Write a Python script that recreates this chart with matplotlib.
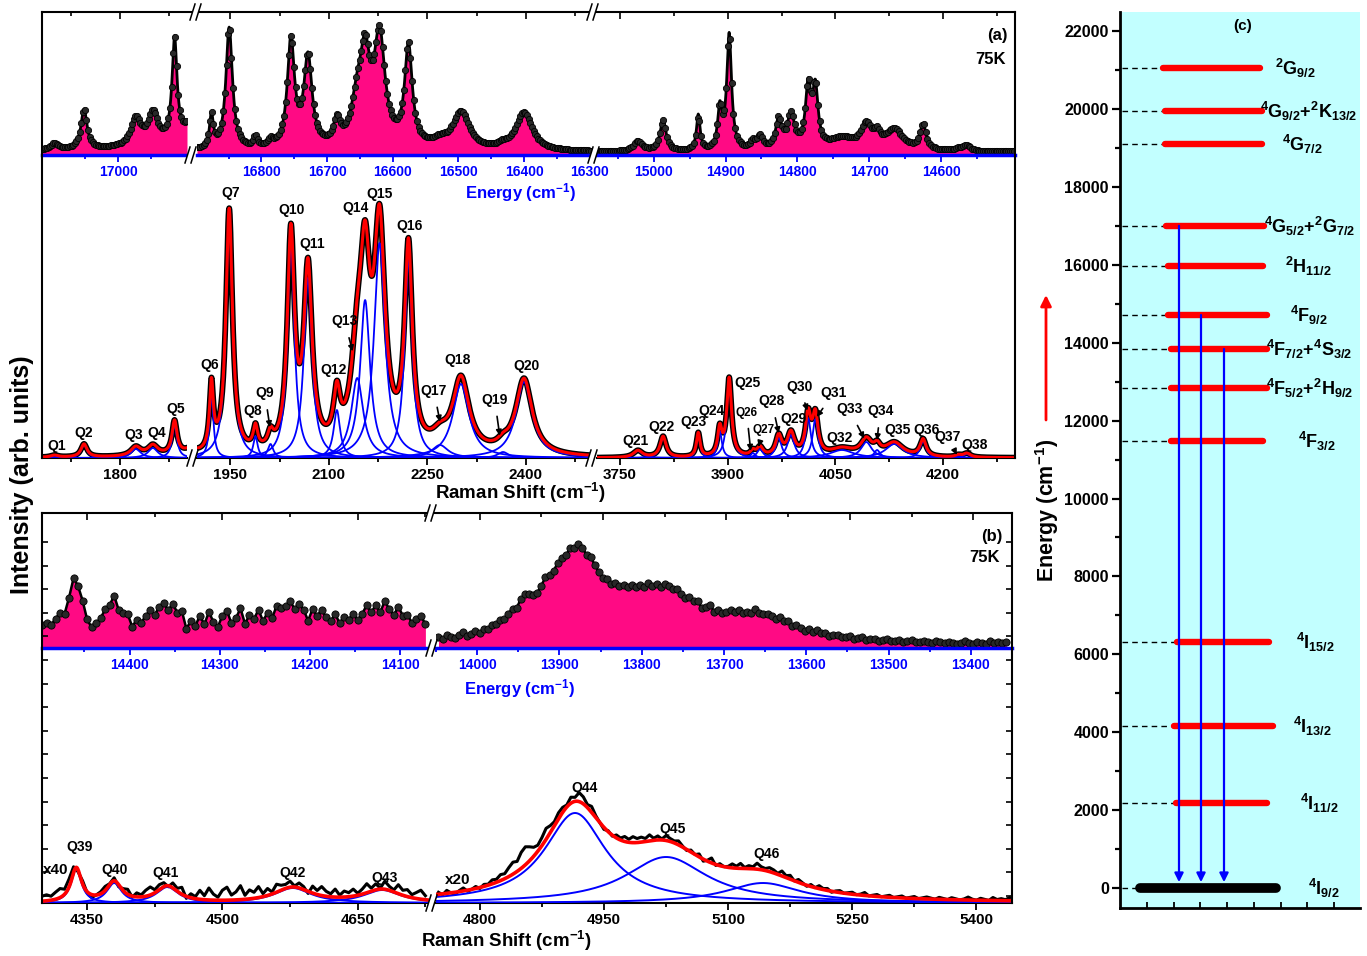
import numpy as np
import matplotlib
matplotlib.use('Agg')
import matplotlib.pyplot as plt
from matplotlib.patches import Polygon

plt.rcParams['font.family'] = ['Liberation Sans', 'DejaVu Sans']
plt.rcParams['font.weight'] = 'bold'
plt.rcParams['mathtext.fontset'] = 'custom'
plt.rcParams['mathtext.rm'] = 'Liberation Sans:bold'
plt.rcParams['mathtext.it'] = 'Liberation Sans:bold'
plt.rcParams['mathtext.bf'] = 'Liberation Sans:bold'
plt.rcParams['mathtext.default'] = 'bf'

W, H = 1367, 956
LASER = 18797.0  # 532 nm line, energy = LASER - Raman shift

PINK = '#FF0A84'
CYAN = '#C2FFFF'

# ---- panel (a): fitted Lorentzian bands (Raman shift, height, FWHM)
a_names = ['Q%d' % i for i in range(1, 39)]
a_pos = [1700, 1745, 1824, 1850, 1883,
         1921, 1948, 1988, 2011, 2042, 2068, 2112, 2143, 2155, 2177, 2221, 2269, 2301, 2365, 2397,
         3775, 3810, 3859, 3889, 3902, 3935, 3945, 3971, 3988, 4012, 4022, 4059, 4093, 4108, 4132,
         4172, 4221, 4233]
a_amp = [2, 13, 9, 10, 33,
         66, 245, 22, 14, 215, 180, 48, 80, 158, 215, 200, 13, 74, 6, 76,
         7, 21, 24, 27, 78, 5, 9, 20, 23, 40, 39, 8, 16, 8, 14, 17, 2, 4]
a_fwhm = [14, 11, 18, 18, 9,
          7, 12, 8, 10, 13, 15, 12, 22, 18, 20, 14, 30, 30, 20, 30,
          15, 10, 6, 7, 8, 8, 10, 10, 12, 9, 9, 40, 18, 10, 30, 10, 10, 12]
a_top_scale = [3.05, 0.5, 1.48]   # emission strip magnification per segment

# ---- panel (b)
b_names = ['Q39', 'Q40', 'Q41', 'Q42', 'Q43', 'Q44', 'Q45', 'Q46']
b_pos = [4338, 4380, 4439, 4578, 4677, 4915, 5025, 5142]
b_amp = [34, 20, 16, 15, 13, 90, 46, 20]
b_fwhm = [14, 20, 30, 50, 50, 90, 120, 110]
b_left_shift = np.arange(4300, 4726, 5)
b_left_resid = [5, 6, 4, 7, 9, 5, 8,
                6, -2, 3,
                -1, -3, 0, 2, 4, 1,
                3, -2, 2, 5,
                -1, 4, 2, 6, 8, 3, 5,
                4, -1, 5, 3, 7, -2, 4,
                2, 9, 4, 12, 6, 3, 10,
                13, 5, 8, 14, 4, 9, 6,
                11, 3, 7, 2, 8, 5, 4,
                6, 1, 5, 3, -2, 7, 4,
                9, 5, 3, 8, 2, 6, 4,
                7, 2, 5, 9, 3, 6, 1,
                8, 4, 2, 9, 5, 7, 3,
                6, 9, 4]
b_right_shift = np.arange(4750, 5441, 5)
b_right_resid = [2, -1, 3, 0, -2, 1, 3, -1, 0, 2,
                 -1, 2, 1, 4, 3, 6, 5, 9, 12, 10,
                 16, 18, 14, 9, 6, 8, 11, 7, 4, 6,
                 5, 2, 6, 4, 9, 7, 3, 6, 2, 0,
                 -2, 1, -1, 3, 2, 5, 3, 6, 4, 5,
                 3, 6, 2, 4, 1, 5, 3, 2, 4, 1,
                 -1, 2, 0, 3, -2, 1, 5, -1, 2, 0,
                 1, 4, 2, 5, 1, 3, 2, 6, 3, 2,
                 4, 3, 1, 5, 2, 4, 0, 3, 1, -1,
                 2, 0, 3, 1, 2, -1, 1, 2, 0, 1,
                 2, 0, 1, 3, 0, 1, 2, 0, 1, 2,
                 0, 1, 2, 0, 1, 2, 0, 1, 2, 1,
                 0, 2, 1, 0, 2, 1, 0, 1, 3, 1,
                 0, 2, 1, 0, 3, 1, 2, 1, 3]
b_top_scale = [1.6, 0.93]
b_top_off = [12, 1.5]

# ---- panel (c): Nd3+ levels (cm-1)
c_levels = [21050, 19950, 19100, 17000, 15970, 14710, 13840, 12840, 11480, 6316, 4160, 2180, 0]
c_labels = [r'$^{2}$G$_{9/2}$', r'$^{4}$G$_{9/2}$+$^{2}$K$_{13/2}$', r'$^{4}$G$_{7/2}$',
            r'$^{4}$G$_{5/2}$+$^{2}$G$_{7/2}$', r'$^{2}$H$_{11/2}$', r'$^{4}$F$_{9/2}$',
            r'$^{4}$F$_{7/2}$+$^{4}$S$_{3/2}$', r'$^{4}$F$_{5/2}$+$^{2}$H$_{9/2}$', r'$^{4}$F$_{3/2}$',
            r'$^{4}$I$_{15/2}$', r'$^{4}$I$_{13/2}$', r'$^{4}$I$_{11/2}$', r'$^{4}$I$_{9/2}$']
c_emit_from = [17000, 14710, 13840]


def lor(x, x0, a, w):
    return a / (1.0 + (2.0 * (x - x0) / w) ** 2)


def fit_sum(x, pos, amp, fwhm):
    return sum(lor(x, p, a, w) for p, a, w in zip(pos, amp, fwhm))


def fbox(x0, y0, x1, y1):
    return [x0 / W, 1 - y1 / H, (x1 - x0) / W, (y1 - y0) / H]


fig = plt.figure(figsize=(W / 100, H / 100), dpi=100)


def seg_axes(x0, y0, x1, y1):
    ax = fig.add_axes(fbox(x0, y0, x1, y1))
    ax.patch.set_visible(False)
    for s in ax.spines.values():
        s.set_visible(False)
    ax.set_yticks([])
    return ax


def style_x(ax, major, minor, color, size):
    ax.set_xticks(major)
    ax.set_xticks(minor, minor=True)
    ax.tick_params(axis='x', which='both', direction='out', color=color, labelcolor=color,
                   width=1.3, labelsize=size, pad=2)
    ax.tick_params(axis='x', which='major', length=5)
    ax.tick_params(axis='x', which='minor', length=3)


def top_ticks(ax, major, minor):
    sec = ax.secondary_xaxis('top', functions=(lambda e: LASER - e, lambda r: LASER - r))
    sec.set_xticks(major)
    sec.set_xticks(minor, minor=True)
    sec.tick_params(which='both', direction='in', labeltop=False, width=1.2)
    sec.tick_params(which='major', length=5)
    sec.tick_params(which='minor', length=3)
    for s in sec.spines.values():
        s.set_visible(False)


# =============== panel (a)
a_seg_px = [(42, 187), (197, 591), (597, 1015)]
a_seg_lim = [(1681, 1902), (1899, 2499), (3718, 4300)]
a_major = [[1800], [1950, 2100, 2250, 2400], [3750, 3900, 4050, 4200]]
a_minor = [[1725, 1875], [2025, 2175, 2325, 2475], [3825, 3975, 4125, 4275]]
a_emaj = [[17000], [16800, 16700, 16600, 16500, 16400, 16300], [15000, 14900, 14800, 14700, 14600]]
a_emin = [[17050, 16950], [16850, 16750, 16650, 16550, 16450, 16350],
          [15050, 14950, 14850, 14750, 14650, 14550]]

a_axes = []
for i in range(3):
    lo, hi = a_seg_lim[i]
    px0, px1 = a_seg_px[i]
    x = np.arange(lo, hi + 0.5, 0.5)
    tot = fit_sum(x, a_pos, a_amp, a_fwhm)

    ax = seg_axes(px0, 160, px1, 458)
    ax.set_xlim(lo, hi)
    ax.set_ylim(0, 298)
    ax.plot(x, tot, color='black', lw=4.2, zorder=2)
    for p, a, w in zip(a_pos, a_amp, a_fwhm):
        if lo - 10 < p < hi + 10:
            ax.plot(x, lor(x, p, a, w), color='blue', lw=1.3, zorder=3)
    ax.plot(x, tot, color='red', lw=2.2, zorder=4)
    ax.spines['bottom'].set_visible(True)
    ax.spines['bottom'].set_linewidth(1.5)
    style_x(ax, a_major[i], a_minor[i], 'black', 11)
    a_axes.append(ax)

    axt = seg_axes(px0, 12, px1, 155)
    E = LASER - x
    yt = tot * a_top_scale[i] + 3
    axt.set_xlim(LASER - lo, LASER - hi)
    axt.set_ylim(0, 143)
    axt.fill_between(E, 0, yt, color=PINK, lw=0)
    axt.plot(E, yt, color='black', lw=2)
    axt.plot(E[::5], yt[::5], 'o', ms=4.5, mfc='#282828', mec='black', mew=0.6)
    axt.spines['bottom'].set_visible(True)
    axt.spines['bottom'].set_color('blue')
    axt.spines['bottom'].set_linewidth(2.5)
    style_x(axt, a_emaj[i], a_emin[i], 'blue', 10)
    top_ticks(axt, a_major[i], a_minor[i])

fa = fig.add_axes(fbox(42, 12, 1015, 458))
fa.patch.set_visible(False)
fa.set_xticks([])
fa.set_yticks([])
fa.spines['bottom'].set_visible(False)
for s in ['top', 'left', 'right']:
    fa.spines[s].set_linewidth(1.5)


def tot_a(r):
    return float(fit_sum(np.array([r]), a_pos, a_amp, a_fwhm)[0])


def seg_of(r):
    for i, (lo, hi) in enumerate(a_seg_lim):
        if lo <= r <= hi:
            return a_axes[i]
    return a_axes[-1]


# label offsets in pixels (dx right, dy up) from the peak top
a_off = {'Q1': (2, 9), 'Q2': (0, 11), 'Q3': (-2, 11), 'Q4': (4, 11), 'Q5': (1, 11),
         'Q6': (-2, 12), 'Q7': (2, 15), 'Q8': (-3, 12), 'Q10': (1, 13), 'Q11': (4, 13),
         'Q12': (-3, 10), 'Q14': (-10, 12), 'Q15': (0, 10), 'Q16': (1, 12), 'Q18': (-3, 15),
         'Q20': (2, 12), 'Q21': (-2, 9), 'Q22': (-2, 9), 'Q23': (-5, 10), 'Q24': (-8, 12),
         'Q25': (18, -6), 'Q29': (3, 11), 'Q32': (-2, 9), 'Q35': (3, 12), 'Q36': (3, 9),
         'Q38': (8, 8)}
# arrowed labels: (Raman shift of arrow tip, dx, dy)
a_arrow = {'Q9': (2010, -5, 34), 'Q13': (2136, -8, 30), 'Q17': (2269, -6, 31),
           'Q19': (2360, -5, 36), 'Q26': (3932, -4, 38), 'Q27': (3943, 5, 17),
           'Q28': (3971, -7, 32), 'Q30': (4011, -8, 24), 'Q31': (4024, 17, 24),
           'Q33': (4090, -15, 29), 'Q34': (4108, 3, 29), 'Q37': (4219, -9, 18)}
small = {'Q26', 'Q27'}
for name, p in zip(a_names, a_pos):
    fs = 8.5 if name in small else 10
    if name in a_arrow:
        r, dx, dy = a_arrow[name]
        seg_of(r).annotate(name, xy=(r, tot_a(r)), xytext=(dx * 0.72, dy * 0.72),
                           textcoords='offset points', ha='center', va='center', fontsize=fs,
                           zorder=6, annotation_clip=False,
                           arrowprops=dict(arrowstyle='-|>', color='black', lw=1.2,
                                           mutation_scale=8, shrinkA=5, shrinkB=0))
    else:
        dx, dy = a_off[name]
        seg_of(p).annotate(name, xy=(p, tot_a(p)), xytext=(dx * 0.72, dy * 0.72),
                           textcoords='offset points', ha='center', va='center', fontsize=fs,
                           zorder=6, annotation_clip=False)

# =============== panel (b)
b_seg_px = [(42, 429), (436, 1012)]
b_seg_lim = [(4300, 4729), (4747, 5443)]
b_major = [[4350, 4500, 4650], [4800, 4950, 5100, 5250, 5400]]
b_minor = [[4425, 4575, 4725], [4875, 5025, 5175, 5325]]
b_emaj = [[14400, 14300, 14200, 14100], [14000, 13900, 13800, 13700, 13600, 13500, 13400]]
b_emin = [[14450, 14350, 14250, 14150], [14050, 13950, 13850, 13750, 13650, 13550, 13450, 13350]]
b_groups = [slice(0, 5), slice(5, 8)]
b_shift = [b_left_shift, b_right_shift]
b_resid = [b_left_resid, b_right_resid]
b_off = {'Q39': (3, 20), 'Q40': (0, 11), 'Q41': (-2, 13), 'Q42': (0, 14), 'Q43': (2, 11),
         'Q44': (10, 13), 'Q45': (6, 11), 'Q46': (4, 16)}

for i in range(2):
    lo, hi = b_seg_lim[i]
    px0, px1 = b_seg_px[i]
    g = b_groups[i]
    pos, amp, fw = b_pos[g], b_amp[g], b_fwhm[g]
    x = np.arange(lo, hi + 0.5, 0.5)
    fit = fit_sum(x, pos, amp, fw)
    xs = b_shift[i]
    meas = fit_sum(xs, pos, amp, fw) + np.array(b_resid[i])

    ax = seg_axes(px0, 700, px1, 903)
    ax.set_xlim(lo, hi)
    ax.set_ylim(0, 203)
    ax.plot(xs, meas, color='black', lw=2.2, zorder=2)
    for p, a, w in zip(pos, amp, fw):
        ax.plot(x, lor(x, p, a, w), color='blue', lw=1.4, zorder=3)
    ax.plot(x, fit, color='red', lw=2.6, zorder=4)
    ax.spines['bottom'].set_visible(True)
    ax.spines['bottom'].set_linewidth(1.5)
    style_x(ax, b_major[i], b_minor[i], 'black', 11)

    for name, p in zip(b_names[g], pos):
        dx, dy = b_off[name]
        yv = float(fit_sum(np.array([p]), pos, amp, fw)[0])
        ax.annotate(name, xy=(p, yv), xytext=(dx * 0.72, dy * 0.72), textcoords='offset points',
                    ha='center', va='center', fontsize=10, zorder=6, annotation_clip=False)

    axt = seg_axes(px0, 513, px1, 648)
    E = LASER - xs
    yt = meas * b_top_scale[i] + b_top_off[i]
    axt.set_xlim(LASER - lo, LASER - hi)
    axt.set_ylim(0, 135)
    axt.fill_between(E, 0, yt, color=PINK, lw=0)
    axt.plot(E, yt, color='black', lw=1.8)
    axt.plot(E, yt, 'o', ms=5.2, mfc='#282828', mec='black', mew=0.6)
    axt.spines['bottom'].set_visible(True)
    axt.spines['bottom'].set_color('blue')
    axt.spines['bottom'].set_linewidth(2.5)
    style_x(axt, b_emaj[i], b_emin[i], 'blue', 10)
    top_ticks(axt, b_major[i], b_minor[i])

fb = fig.add_axes(fbox(42, 513, 1012, 903))
fb.patch.set_visible(False)
fb.set_xticks([])
fb.set_xlim(0, 1)
fb.set_ylim(903, 513)
fb.set_yticks(np.arange(542, 900, 23.6))
fb.tick_params(axis='y', which='both', direction='in', length=4, width=1.2,
               left=True, right=True, labelleft=False)
fb.spines['bottom'].set_visible(False)
for s in ['top', 'left', 'right']:
    fb.spines[s].set_linewidth(1.5)

# =============== panel (c)
axc = fig.add_axes(fbox(1120, 12, 1360, 908))
axc.set_facecolor(CYAN)
axc.set_xlim(1120, 1360)
axc.set_ylim(-513, 22490)
axc.spines['top'].set_visible(False)
axc.spines['right'].set_visible(False)
axc.spines['left'].set_linewidth(2)
axc.spines['bottom'].set_linewidth(2)
axc.set_yticks(np.arange(0, 22001, 2000))
axc.set_yticks(np.arange(1000, 22001, 2000), minor=True)
axc.tick_params(axis='y', which='both', direction='out', width=1.6, labelsize=11.5, pad=2)
axc.tick_params(axis='y', which='major', length=6)
axc.tick_params(axis='y', which='minor', length=3.5)
axc.set_xticks([])
axc.set_xticks(np.arange(1147, 1360, 26.7), minor=True)
axc.tick_params(axis='x', which='minor', direction='in', length=4, width=1.3)

c_bar = [(1163, 1260), (1165, 1262), (1165, 1262), (1166, 1264), (1168, 1263), (1168, 1267),
         (1171, 1267), (1171, 1267), (1171, 1263), (1177, 1269), (1174, 1273), (1176, 1267),
         (1140, 1276)]
c_text_x = [1275, 1260, 1282, 1264, 1285, 1290, 1266, 1266, 1298, 1296, 1293, 1300, 1308]
for k, (e, lab) in enumerate(zip(c_levels, c_labels)):
    x0, x1 = c_bar[k]
    ground = e == 0
    axc.plot([1122, x0], [e, e], color='black', lw=1, dashes=(4, 3), zorder=2)
    axc.plot([x0, x1], [e, e], color='black' if ground else '#FF0000',
             lw=7 if ground else 4.6, solid_capstyle='round', zorder=3)
    axc.text(c_text_x[k], e - 180, lab, fontsize=13, ha='left', va='baseline')
for xa, e0 in zip([1179, 1201, 1224], c_emit_from):
    axc.annotate('', xy=(xa, 150), xytext=(xa, e0), zorder=4,
                 arrowprops=dict(arrowstyle='-|>', color='blue', lw=1.6, mutation_scale=13,
                                 shrinkA=0, shrinkB=0))

# =============== texts, break marks
ov = fig.add_axes([0, 0, 1, 1])
ov.set_xlim(0, W)
ov.set_ylim(H, 0)
ov.axis('off')
ov.set_zorder(20)


def brk(x, y):
    ov.add_patch(Polygon([(x - 6, y + 8), (x - 1, y - 8), (x + 5, y - 8), (x, y + 8)],
                         closed=True, fc='white', ec='none'))
    for off in (-3, 3):
        ov.plot([x + off - 3, x + off + 2], [y + 8, y - 8], color='black', lw=1.1)


for bx, by in [(196, 12), (593, 12), (191, 155), (594, 155), (193, 458), (592, 458),
               (431, 513), (432, 648), (432, 903)]:
    brk(bx, by)

ov.text(997, 35, '(a)', fontsize=12, ha='center', va='center')
ov.text(991, 59, '75K', fontsize=12, ha='center', va='center')
ov.text(992, 537, '(b)', fontsize=12, ha='center', va='center')
ov.text(985, 558, '75K', fontsize=12, ha='center', va='center')
ov.text(1243, 26, '(c)', fontsize=11, ha='center', va='center')
ov.text(56, 870, 'x40', fontsize=11, ha='center', va='center')
ov.text(458, 880, 'x20', fontsize=11, ha='center', va='center')
ov.text(521, 193, r'Energy (cm$^{-1}$)', fontsize=12, color='blue', ha='center', va='center')
ov.text(520, 689, r'Energy (cm$^{-1}$)', fontsize=12, color='blue', ha='center', va='center')
ov.text(520, 493, r'Raman Shift (cm$^{-1}$)', fontsize=13.5, ha='center', va='center')
ov.text(506, 941, r'Raman Shift (cm$^{-1}$)', fontsize=13.5, ha='center', va='center')
ov.text(22, 475, 'Intensity (arb. units)', fontsize=18, rotation=90, ha='center', va='center')
ov.text(1047, 510, r'Energy (cm$^{-1}$)', fontsize=15.5, rotation=90, ha='center', va='center')
ov.annotate('', xy=(1046, 295), xytext=(1046, 420),
            arrowprops=dict(arrowstyle='-|>', color='red', lw=2, mutation_scale=16,
                            shrinkA=0, shrinkB=0))

fig.savefig('out.png', dpi=100)
